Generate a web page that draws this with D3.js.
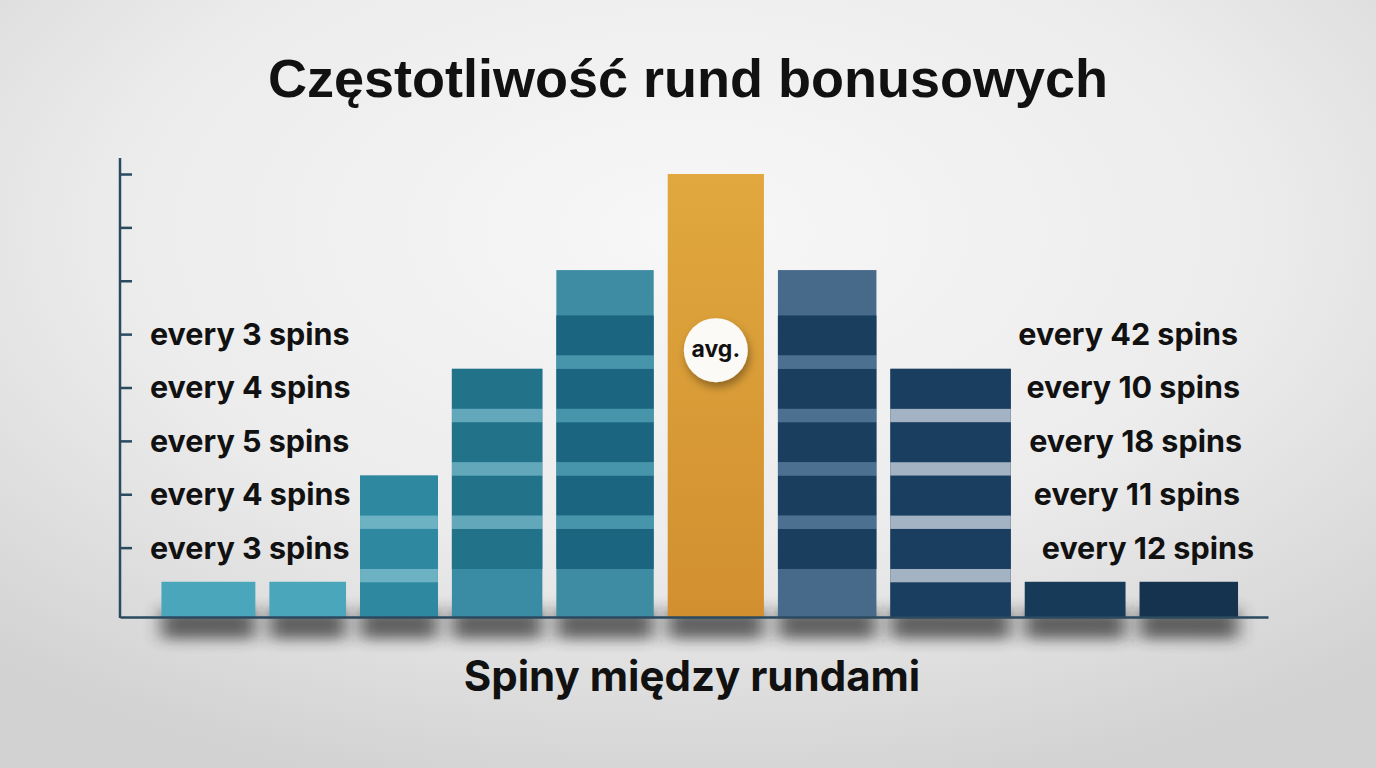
<!DOCTYPE html>
<html>
<head>
<meta charset="utf-8">
<script src="https://cdn.jsdelivr.net/npm/d3@7"></script>
<style>
  html, body { margin: 0; padding: 0; overflow: hidden; }
  #container { width: 1376px; height: 768px; }
</style>
</head>
<body>
<div id="container"></div>
<script>
/* CONSTANTS AND GLOBALS */
const width = 1376,
  height = 768,
  margin = { top: 158, bottom: 151, left: 120, right: 108 };

/* DATA */
const title = "Częstotliwość rund bonusowych";
const xTitle = "Spiny między rundami";
// histogram bins (edges on the "spins between rounds" axis, 0..100 scale)
const binEdges = [3, 12.4, 20.3, 28.3, 37.4, 47.1, 56.7, 66.5, 78.2, 88.2, 98];
const frequency = [6.6, 6.6, 26.5, 46.5, 65, 83, 65, 46.5, 6.6, 6.6];
const tickValues = [13, 23, 33, 43, 53, 63, 73, 83];
const leftLabels = ["every 3 spins", "every 4 spins", "every 5 spins", "every 4 spins", "every 3 spins"]; // bottom -> top
const rightLabels = ["every 12 spins", "every 11 spins", "every 18 spins", "every 10 spins", "every 42 spins"]; // bottom -> top
const avgBin = 5;
const avgLevel = 50;

/* STYLES (one per bar) */
const barStyles = [
  { base: "#4aa7bb" },
  { base: "#4aa6ba" },
  { base: "#2e88a0", dark: "#2e88a0", stripe: "#6cb2c2", from: 0 },
  { base: "#3a8ca4", dark: "#22728a", stripe: "#62a8ba", from: 1 },
  { base: "#3d8ca3", dark: "#1c6580", stripe: "#4795ab", from: 1 },
  { base: "#dba03a", orange: true },
  { base: "#47698a", dark: "#1a3e5e", stripe: "#4b7090", from: 1 },
  { base: "#1a3e60", dark: "#1a3e60", stripe: "#a3b3c3", from: 0 },
  { base: "#173a58" },
  { base: "#15324e" }
];
const rightShift = [14, 0, 2, 0, -2]; // small nudges of the right labels, bottom -> top
const period = tickValues[1] - tickValues[0];
const inset = 7;

/* SCALES */
const xScale = d3.scaleLinear()
  .domain([0, 100])
  .range([margin.left, width - margin.right]);

const yScale = d3.scaleLinear()
  .domain([0, 86])
  .range([height - margin.bottom, margin.top]);

const y0 = yScale(0);

const data = frequency.map((v, i) => ({
  i,
  x0: binEdges[i],
  x1: binEdges[i + 1],
  value: v,
  style: barStyles[i]
}));
const bx = d => xScale(d.x0) + inset;
const bw = d => xScale(d.x1) - xScale(d.x0) - 2 * inset;

/* SVG */
const svg = d3.select("#container")
  .append("svg")
  .attr("width", width)
  .attr("height", height);

const defs = svg.append("defs");

const bg = defs.append("radialGradient")
  .attr("id", "bg")
  .attr("cx", "50%").attr("cy", "30%").attr("r", "75%");
bg.append("stop").attr("offset", "0%").attr("stop-color", "#f7f7f7");
bg.append("stop").attr("offset", "55%").attr("stop-color", "#ececec");
bg.append("stop").attr("offset", "100%").attr("stop-color", "#d2d2d2");

const og = defs.append("linearGradient")
  .attr("id", "orange")
  .attr("x1", 0).attr("y1", 0).attr("x2", 0).attr("y2", 1);
og.append("stop").attr("offset", "0%").attr("stop-color", "#e0a83e");
og.append("stop").attr("offset", "100%").attr("stop-color", "#d28f2f");

defs.append("filter")
  .attr("id", "blur")
  .attr("x", "-30%").attr("y", "-100%").attr("width", "160%").attr("height", "300%")
  .append("feGaussianBlur").attr("stdDeviation", "9 7");

const ds = defs.append("filter")
  .attr("id", "drop")
  .attr("x", "-50%").attr("y", "-50%").attr("width", "200%").attr("height", "200%");
ds.append("feDropShadow")
  .attr("dx", 2).attr("dy", 5).attr("stdDeviation", 4)
  .attr("flood-color", "#000").attr("flood-opacity", 0.35);

svg.append("rect")
  .attr("width", width).attr("height", height)
  .attr("fill", "url(#bg)");

/* TITLE */
svg.append("text")
  .attr("x", 688).attr("y", 97)
  .attr("text-anchor", "middle")
  .style("font-family", "'Liberation Sans', Arial, sans-serif")
  .style("font-weight", 700)
  .style("font-size", "54px")
  .attr("fill", "#111")
  .text(title);

/* SHADOWS UNDER BARS */
svg.append("g")
  .selectAll("rect")
  .data(data)
  .join("rect")
  .attr("x", d => bx(d))
  .attr("y", y0 - 8)
  .attr("width", d => bw(d))
  .attr("height", 30)
  .attr("fill", "#2a2a2a")
  .attr("opacity", 0.7)
  .attr("filter", "url(#blur)");

/* BARS */
const bars = svg.append("g")
  .selectAll("g")
  .data(data)
  .join("g");

bars.append("rect")
  .attr("x", bx)
  .attr("y", d => yScale(d.value))
  .attr("width", bw)
  .attr("height", d => y0 - yScale(d.value))
  .attr("fill", d => d.style.orange ? "url(#orange)" : d.style.base);

// dark segments and light stripes follow the tick grid
bars.each(function (d) {
  if (!d.style.dark) return;
  const g = d3.select(this);
  const segs = [], stripes = [];
  for (let k = d.style.from; period * k + 6.5 <= d.value + 0.01; k++) {
    segs.push([Math.max(0, period * k - 1), Math.min(d.value, period * k + 6.5)]);
  }
  for (let j = 0; j < segs.length - 1; j++) stripes.push([segs[j][1], segs[j + 1][0]]);
  g.selectAll("rect.seg")
    .data(segs)
    .join("rect")
    .attr("class", "seg")
    .attr("x", bx(d))
    .attr("y", s => yScale(s[1]))
    .attr("width", bw(d))
    .attr("height", s => yScale(s[0]) - yScale(s[1]))
    .attr("fill", d.style.dark);
  g.selectAll("rect.stripe")
    .data(stripes)
    .join("rect")
    .attr("class", "stripe")
    .attr("x", bx(d))
    .attr("y", s => yScale(s[1]))
    .attr("width", bw(d))
    .attr("height", s => yScale(s[0]) - yScale(s[1]))
    .attr("fill", d.style.stripe);
});

/* AXES */
const yAxis = d3.axisLeft(yScale)
  .tickValues(tickValues)
  .tickSize(-12)
  .tickFormat("");

const gy = svg.append("g")
  .attr("transform", `translate(${margin.left},0)`)
  .call(yAxis);
gy.select(".domain").remove();
gy.selectAll(".tick line")
  .attr("stroke", "#2b4a60")
  .attr("stroke-width", 2.5);

svg.append("line")
  .attr("x1", margin.left).attr("x2", margin.left)
  .attr("y1", yScale(86)).attr("y2", y0 + 1)
  .attr("stroke", "#2b4a60").attr("stroke-width", 2.5);

const xAxis = d3.axisBottom(xScale).tickValues([]).tickSizeOuter(0);
const gx = svg.append("g")
  .attr("transform", `translate(0,${y0})`)
  .call(xAxis);
gx.select(".domain")
  .attr("stroke", "#2b4a60")
  .attr("stroke-width", 2.5);

/* SIDE LABELS */
const labelFont = "Inter, 'Liberation Sans', sans-serif";
svg.append("g")
  .selectAll("text")
  .data(leftLabels)
  .join("text")
  .attr("x", 150)
  .attr("y", (d, i) => yScale(tickValues[i]))
  .attr("dy", "0.36em")
  .style("font-family", labelFont)
  .style("font-weight", 700)
  .style("font-size", "30.5px")
  .attr("fill", "#111")
  .text(d => d);

svg.append("g")
  .selectAll("text")
  .data(rightLabels)
  .join("text")
  .attr("x", (d, i) => 1240 + rightShift[i])
  .attr("y", (d, i) => yScale(tickValues[i]))
  .attr("dy", "0.36em")
  .attr("text-anchor", "end")
  .style("font-family", labelFont)
  .style("font-weight", 700)
  .style("font-size", "30.5px")
  .attr("fill", "#111")
  .text(d => d);

/* AVG BADGE */
const badge = svg.append("g")
  .attr("transform", `translate(${(xScale(binEdges[avgBin]) + xScale(binEdges[avgBin + 1])) / 2},${yScale(avgLevel)})`);
badge.append("circle")
  .attr("r", 32)
  .attr("fill", "#fbfaf7")
  .attr("filter", "url(#drop)");
badge.append("text")
  .attr("text-anchor", "middle")
  .attr("dy", "0.3em")
  .style("font-family", labelFont)
  .style("font-weight", 700)
  .style("font-size", "23px")
  .attr("fill", "#111")
  .text("avg.");

/* X TITLE */
svg.append("text")
  .attr("x", 692).attr("y", 691)
  .attr("text-anchor", "middle")
  .style("font-family", labelFont)
  .style("font-weight", 700)
  .style("font-size", "42px")
  .attr("fill", "#111")
  .text(xTitle);
</script>
</body>
</html>
